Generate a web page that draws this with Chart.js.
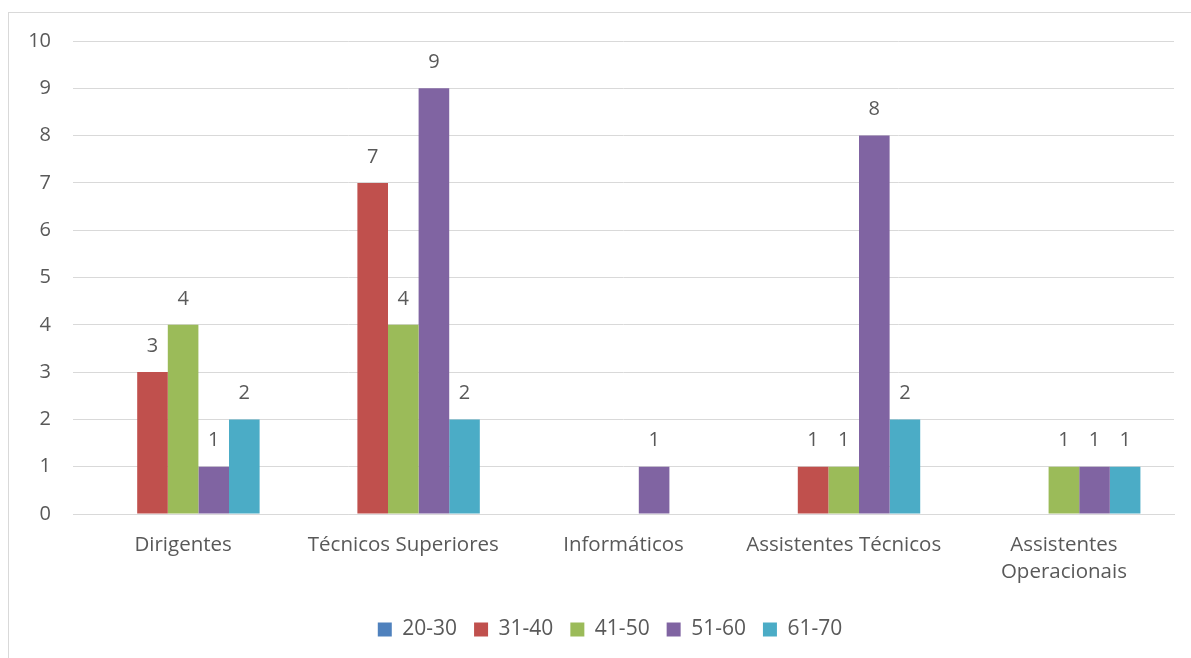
<!DOCTYPE html>
<html lang="pt">
<head>
    <meta charset="UTF-8">
    <title>Funcionários por faixa etária</title>
    <script src="https://cdn.jsdelivr.net/npm/chart.js"></script>
    <style>
        body { margin: 0; background: #fff; }
        #wrap { position: relative; width: 1191px; height: 658px; overflow: hidden; }
        #moldura { position: absolute; left: 8px; top: 12px; width: 1300px; height: 700px;
                   border-left: 1px solid #d9d9d9; border-top: 1px solid #d9d9d9; }
        #grafico { position: absolute; left: 0; top: 0; }
    </style>
</head>
<body>
    <div id="wrap">
        <div id="moldura"></div>
        <canvas id="grafico" width="1191" height="658"></canvas>
    </div>

    <script>
        // categorias e séries
        var categorias = ['Dirigentes', 'Técnicos Superiores', 'Informáticos', 'Assistentes Técnicos', ['Assistentes', 'Operacionais']];
        var faixas = ['20-30', '31-40', '41-50', '51-60', '61-70'];
        var cores = ['#4f81bd', '#c0504d', '#9bbb59', '#8064a2', '#4bacc6'];

        // null = sem barra (zero, sem rótulo)
        var f20_30 = [null, null, null, null, null];
        var f31_40 = [3, 7, null, 1, null];
        var f41_50 = [4, 4, null, 1, 1];
        var f51_60 = [1, 9, 1, 8, 1];
        var f61_70 = [2, 2, null, 2, 1];
        var valores = [f20_30, f31_40, f41_50, f51_60, f61_70];

        var ticksY = [0, 1, 2, 3, 4, 5, 6, 7, 8, 9, 10];

        var corTexto = '#595959';
        var fonte = '"Open Sans", Lato, sans-serif';

        // rótulos de valor por cima das barras
        var rotulos = {
            id: 'rotulos',
            afterDatasetsDraw: function (chart) {
                var ctx = chart.ctx;
                ctx.save();
                ctx.font = '20px ' + fonte;
                ctx.fillStyle = corTexto;
                ctx.textAlign = 'center';
                ctx.textBaseline = 'middle';
                chart.data.datasets.forEach(function (ds, i) {
                    var meta = chart.getDatasetMeta(i);
                    meta.data.forEach(function (bar, j) {
                        var v = ds.data[j];
                        if (v === null || v === undefined) return;
                        ctx.fillText(String(v), bar.x, bar.y - 26);
                    });
                });
                ctx.restore();
            }
        };

        // a legenda do original está um pouco deslocada para a direita
        var moverLegenda = {
            id: 'moverLegenda',
            afterLayout: function (chart) {
                chart.legend.left += 23;
                chart.legend.right += 23;
            }
        };

        var ctx = document.getElementById('grafico').getContext('2d');
        var grafico = new Chart(ctx, {
            type: 'bar',
            data: {
                labels: categorias,
                datasets: faixas.map(function (f, i) {
                    return {
                        label: f,
                        data: valores[i],
                        backgroundColor: cores[i],
                        borderWidth: 0,
                        categoryPercentage: 0.695,
                        barPercentage: 1
                    };
                })
            },
            options: {
                responsive: false,
                animation: false,
                layout: { padding: { left: 0, right: 17, top: 41, bottom: 8 } },
                scales: {
                    x: {
                        grid: { display: false, drawTicks: false },
                        border: { color: '#d9d9d9', width: 1 },
                        ticks: {
                            color: corTexto,
                            font: { family: fonte, size: 20.5, lineHeight: 1.35 },
                            maxRotation: 0,
                            autoSkip: false,
                            padding: 17
                        },
                        afterFit: function (s) { s.height = 88; }
                    },
                    y: {
                        min: 0,
                        max: 10,
                        afterBuildTicks: function (s) {
                            s.ticks = ticksY.map(function (v) { return { value: v }; });
                        },
                        grid: { color: '#d9d9d9', lineWidth: 1, drawTicks: false },
                        border: { display: false },
                        ticks: {
                            color: corTexto,
                            font: { family: fonte, size: 20 },
                            padding: 22
                        },
                        afterFit: function (s) { s.width = 73; }
                    }
                },
                plugins: {
                    legend: {
                        position: 'bottom',
                        labels: {
                            color: corTexto,
                            font: { family: fonte, size: 21 },
                            boxWidth: 14,
                            boxHeight: 14,
                            padding: 17
                        }
                    },
                    tooltip: { enabled: false }
                }
            },
            plugins: [rotulos, moverLegenda]
        });
    </script>
</body>
</html>
